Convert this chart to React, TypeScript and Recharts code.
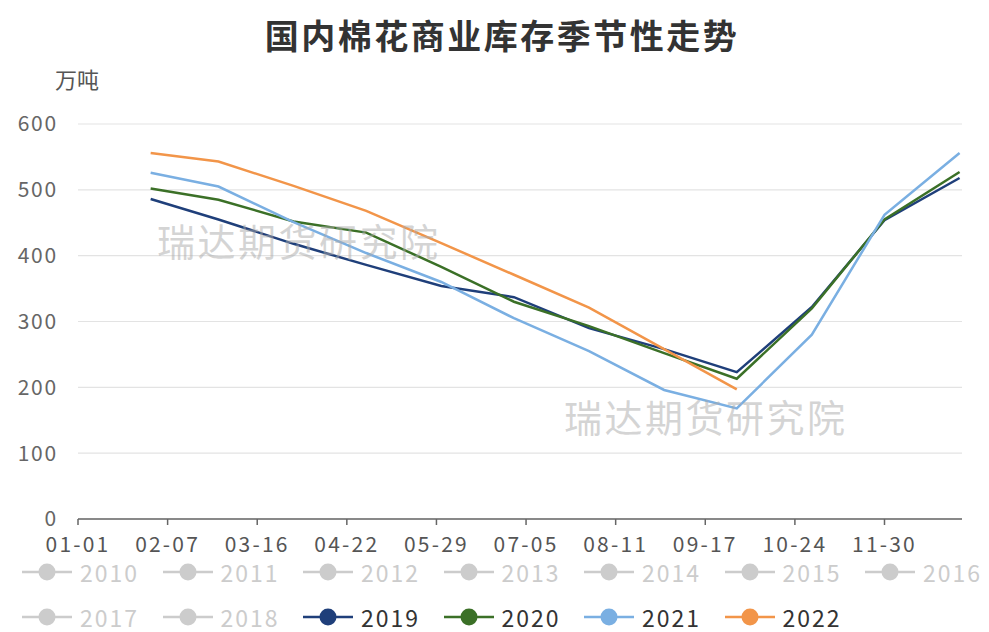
import React from "react";
import { LineChart, Line, XAxis, YAxis, CartesianGrid } from "recharts";

const FONT = '"Noto Sans CJK SC", "Microsoft YaHei", sans-serif';

// month-end observation dates
const dates = ["01-31", "02-28", "03-31", "04-30", "05-31", "06-30", "07-31", "08-31", "09-30", "10-31", "11-30", "12-31"];
const xTickLabels = ["01-01", "02-07", "03-16", "04-22", "05-29", "07-05", "08-11", "09-17", "10-24", "11-30"];
const yTicks = [0, 100, 200, 300, 400, 500, 600];

const s2019 = [486, 455, 418, 386, 354, 337, 290, 258, 223, 322, 454, 518];
const s2020 = [502, 485, 452, 435, 383, 330, 293, 252, 213, 320, 455, 527];
const s2021 = [526, 505, 451, 404, 360, 305, 255, 196, 168, 280, 462, 556];
const s2022 = [556, 543, 506, 468, 419, 371, 321, 258, 197];

const hiddenYears = ["2010", "2011", "2012", "2013", "2014", "2015", "2016", "2017", "2018"];

const series = [
  { key: "y2019", name: "2019", color: "#1f3f7a", values: s2019 },
  { key: "y2020", name: "2020", color: "#3b7027", values: s2020 },
  { key: "y2021", name: "2021", color: "#7aafe2", values: s2021 },
  { key: "y2022", name: "2022", color: "#f29549", values: s2022 },
];

const monthStart = [0, 31, 59, 90, 120, 151, 181, 212, 243, 273, 304, 334];
const dayOfYear = (md: string) => {
  const [m, d] = md.split("-").map(Number);
  return monthStart[m - 1] + d - 1;
};

const data = dates.map((d, i) => {
  const row: any = { day: dayOfYear(d) };
  series.forEach((s) => {
    if (i < s.values.length) row[s.key] = s.values[i];
  });
  return row;
});

const xTicks = xTickLabels.map(dayOfYear);

function LegendRows() {
  const items = [
    ...hiddenYears.map((y) => ({ name: y, color: "#cccccc", active: false })),
    ...series.map((s) => ({ name: s.name, color: s.color, active: true })),
  ];
  const rows = [items.slice(0, 7), items.slice(7)];
  return (
    <div style={{ position: "absolute", left: 21, top: 549, fontFamily: FONT }}>
      {rows.map((row, ri) => (
        <div key={ri} style={{ display: "flex", height: 45, alignItems: "center" }}>
          {row.map((it) => (
            <div key={it.name} style={{ display: "flex", alignItems: "center", width: 140.5, height: 36 }}>
              <svg width={52} height={20} style={{ marginRight: 7 }}>
                <line x1={1} y1={10} x2={51} y2={10} stroke={it.color} strokeWidth={2.5} />
                <circle cx={26} cy={10} r={8.5} fill={it.color} />
              </svg>
              <span style={{ fontSize: 23, lineHeight: "28px", letterSpacing: 2, color: it.active ? "#333" : "#cccccc" }}>
                {it.name}
              </span>
            </div>
          ))}
        </div>
      ))}
    </div>
  );
}

const watermark: React.CSSProperties = {
  position: "absolute",
  fontFamily: FONT,
  fontSize: 38,
  letterSpacing: 2.5,
  color: "rgba(170,170,170,0.5)",
  whiteSpace: "nowrap",
  pointerEvents: "none",
};

export default function App() {
  return (
    <div style={{ position: "absolute", left: 0, top: 0, width: 989, height: 632, background: "#fff", overflow: "hidden" }}>
      <div
        style={{
          position: "absolute",
          top: 10,
          left: 0,
          width: 1004,
          textAlign: "center",
          fontFamily: FONT,
          fontSize: 34,
          fontWeight: 700,
          letterSpacing: 2.5,
          color: "#333",
        }}
      >
        国内棉花商业库存季节性走势
      </div>
      <div style={{ position: "absolute", top: 62, left: 55, fontFamily: FONT, fontSize: 22, color: "#555" }}>万吨</div>
      <LineChart width={989} height={632} data={data} margin={{ top: 124, right: 27, left: 18, bottom: 83 }}>
        <CartesianGrid horizontal vertical={false} stroke="#e3e3e3" strokeWidth={1.2} />
        <XAxis
          dataKey="day"
          type="number"
          domain={[0, 365]}
          ticks={xTicks}
          tickFormatter={(v: number) => xTickLabels[xTicks.indexOf(v)] ?? ""}
          interval={0}
          height={30}
          stroke="#666"
          strokeWidth={1.5}
          tickSize={6}
          tickMargin={12}
          tick={{ fill: "#555", fontSize: 21, letterSpacing: 2.2, fontFamily: FONT }}
        />
        <YAxis
          domain={[0, 600]}
          ticks={yTicks}
          width={60}
          axisLine={false}
          tickLine={false}
          tickMargin={14}
          tick={{ fill: "#666", fontSize: 21, letterSpacing: 1.8, fontFamily: FONT }}
        />
        {series.map((s) => (
          <Line
            key={s.key}
            dataKey={s.key}
            name={s.name}
            type="linear"
            stroke={s.color}
            strokeWidth={2.5}
            dot={false}
            isAnimationActive={false}
          />
        ))}
      </LineChart>
      <LegendRows />
      <div style={{ ...watermark, left: 157, top: 212 }}>瑞达期货研究院</div>
      <div style={{ ...watermark, left: 564, top: 388 }}>瑞达期货研究院</div>
    </div>
  );
}
